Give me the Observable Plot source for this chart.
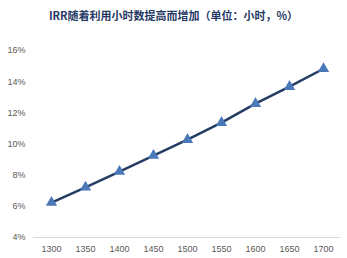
<!DOCTYPE html>
<html>
<head>
<meta charset="utf-8">
<script src="https://cdn.jsdelivr.net/npm/d3@7"></script>
<script src="https://cdn.jsdelivr.net/npm/@observablehq/plot@0.6"></script>
<style>
  html, body { margin: 0; padding: 0; background: #fff; }
  #title {
    height: 30px; line-height: 30px; text-align: center;
    font-family: "Noto Sans CJK SC", sans-serif; font-weight: bold;
    font-size: 11px; color: #1f3864;
  }
</style>
</head>
<body>
<div id="title">IRR随着利用小时数提高而增加（单位：小时，%）</div>
<div id="chart"></div>
<script>
// Utilisation hours and the resulting IRR (%)
const hours = ["1300", "1350", "1400", "1450", "1500", "1550", "1600", "1650", "1700"];
const irr = [6.24, 7.22, 8.23, 9.26, 10.28, 11.37, 12.59, 13.68, 14.83];
const yTicks = [4, 6, 8, 10, 12, 14, 16];

const data = hours.map((h, i) => ({hour: h, irr: irr[i]}));

const chart = Plot.plot({
  width: 347,
  height: 228,
  marginTop: 20,
  marginBottom: 21,
  marginLeft: 33,
  marginRight: 7,
  style: {fontFamily: "Liberation Sans, Arial, sans-serif", fontSize: "9px", color: "#595959", background: "#fff"},
  x: {type: "point", domain: hours, padding: 0.5, label: null, tickSize: 0, tickPadding: 8},
  y: {domain: [4, 16], ticks: yTicks, tickFormat: d => d + "%", label: null, tickSize: 0, tickPadding: 8},
  marks: [
    Plot.axisY({ticks: yTicks, tickFormat: d => d + "%", tickSize: 0, tickPadding: 8, label: null, fill: "#595959"}),
    Plot.axisX({tickSize: 0, tickPadding: 8, label: null, fill: "#595959"}),
    Plot.ruleY([4], {stroke: "#d9d9d9", strokeWidth: 1}),
    Plot.line(data, {x: "hour", y: "irr", stroke: "#253c63", strokeWidth: 2.5}),
    Plot.dot(data, {x: "hour", y: "irr", symbol: "triangle", r: 4.2, fill: "#4a78b8", stroke: "none"})
  ]
});
document.getElementById("chart").appendChild(chart);
</script>
</body>
</html>
